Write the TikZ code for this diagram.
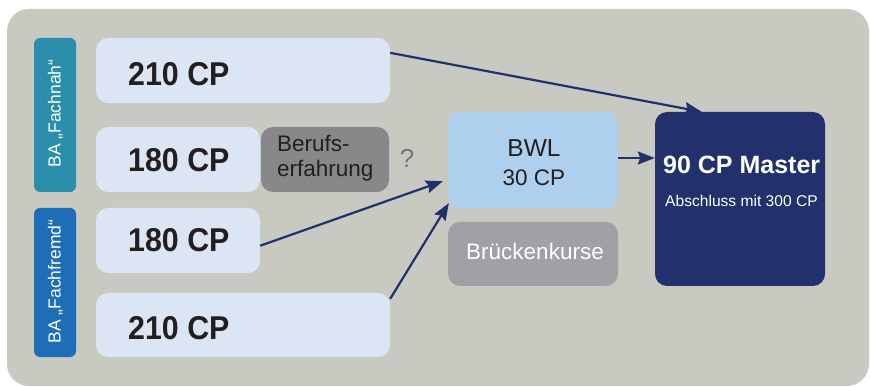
\documentclass[tikz,border=0pt]{standalone}
\usepackage{fontspec}
\setmainfont{Liberation Sans}
\newfontfamily\condb[FakeStretch=0.92]{Liberation Sans Bold}
\usetikzlibrary{arrows.meta,calc}
\definecolor{bggray}{HTML}{C8C9C1}
\definecolor{tealbox}{HTML}{2B8FAB}
\definecolor{bluebox}{HTML}{1D6EB6}
\definecolor{lightbox}{HTML}{DBE5F3}
\definecolor{bwlblue}{HTML}{AECFEE}
\definecolor{darkgray}{HTML}{88888B}
\definecolor{midgray}{HTML}{A0A1A5}
\definecolor{navy}{HTML}{22306B}
\definecolor{qgray}{HTML}{76777A}
\definecolor{txt}{HTML}{231F20}
\tikzset{
  box/.style={rounded corners=12pt, inner sep=0pt, draw=none},
  big/.style={font=\condb\fontsize{33}{33}\selectfont, text=txt, inner sep=0pt},
  mid/.style={font=\fontsize{22.5}{22.5}\selectfont, inner sep=0pt},
  side/.style={font=\fontsize{17.5}{17.5}\selectfont, text=white, inner sep=0pt, rotate=90},
  arr/.style={draw=navy, line width=2.2pt, -{Stealth[length=17pt,width=13pt,inset=2.5pt]}}
}
\begin{document}
\begin{tikzpicture}[x=1pt,y=-1pt]
\useasboundingbox (0,0) rectangle (870,387);
\fill[bggray, rounded corners=22pt] (7,9) rectangle (869,386);
% side labels
\node[box, fill=tealbox, rounded corners=6pt, minimum width=42pt, minimum height=154pt] (fnbox) at (55,115) {};
\node[side, anchor=center] (fntxt) at (55.5,113.5) {BA „Fachnah“};
\node[box, fill=bluebox, rounded corners=6pt, minimum width=42pt, minimum height=149pt] (ffbox) at (55,282.5) {};
\node[side, anchor=center] (fftxt) at (55.5,281.5) {BA „Fachfremd“};
% CP boxes
\node[box, fill=lightbox, minimum width=294pt, minimum height=65pt] (a210) at (243,70.5) {};
\node[big, anchor=base west] (a210t) at (128,86) {210 CP};
\node[box, fill=lightbox, minimum width=164pt, minimum height=65pt] (a180) at (178,159.5) {};
\node[big, anchor=base west] (a180t) at (128,172) {180 CP};
\node[box, fill=lightbox, minimum width=164pt, minimum height=65pt] (b180) at (178,240.5) {};
\node[big, anchor=base west] (b180t) at (128,252) {180 CP};
\node[box, fill=lightbox, minimum width=294pt, minimum height=64pt] (b210) at (243,325) {};
\node[big, anchor=base west] (b210t) at (128,339) {210 CP};
% Berufserfahrung
\node[box, fill=darkgray, minimum width=128pt, minimum height=65pt] (beruf) at (325,159.5) {};
\node[mid, anchor=base west, text=txt] (beruf1) at (277,152) {Berufs-};
\node[mid, anchor=base west, text=txt] (beruf2) at (277,177) {erfahrung};
\node[font=\fontsize{26}{26}\selectfont, text=qgray, inner sep=0pt, anchor=base] (q) at (407,168) {?};
% BWL
\node[box, fill=bwlblue, minimum width=170pt, minimum height=96pt] (bwl) at (533,160) {};
\node[font=\fontsize{24.5}{24.5}\selectfont, text=txt, inner sep=0pt, anchor=base] (bwl1) at (534,157) {BWL};
\node[font=\fontsize{22.5}{22.5}\selectfont, text=txt, inner sep=0pt, anchor=base] (bwl2) at (534,186) {30 CP};
% Brueckenkurse
\node[box, fill=midgray, minimum width=170pt, minimum height=64pt] (bk) at (533,254) {};
\node[mid, anchor=base, text=white] (bkt) at (535,260) {Brückenkurse};
% Master
\node[box, fill=navy, minimum width=170pt, minimum height=174pt] (master) at (740,199) {};
\node[font=\bfseries\fontsize{25}{25}\selectfont, text=white, inner sep=0pt, anchor=base west] (m1) at (663,174) {90 CP Master};
\node[font=\fontsize{15.6}{15.6}\selectfont, text=white, inner sep=0pt, anchor=base west] (m2) at (665,207) {Abschluss mit 300 CP};
% arrows
\draw[arr] ($(a210.north east)!0.23!(a210.south east)$) -- ($(master.north west)!0.275!(master.north east)$);
\draw[arr] (bwl.east |- 0,158) -- (master.west |- 0,158);
\draw[arr] ($(b180.north east)!0.58!(b180.south east)$) -- ($(bwl.north west)!0.72!(bwl.south west)+(-5,0)$);
\draw[arr] ($(b210.north east)+(0,6)$) -- ($(bwl.south west)+(1,-5)$);
\end{tikzpicture}
\end{document}
